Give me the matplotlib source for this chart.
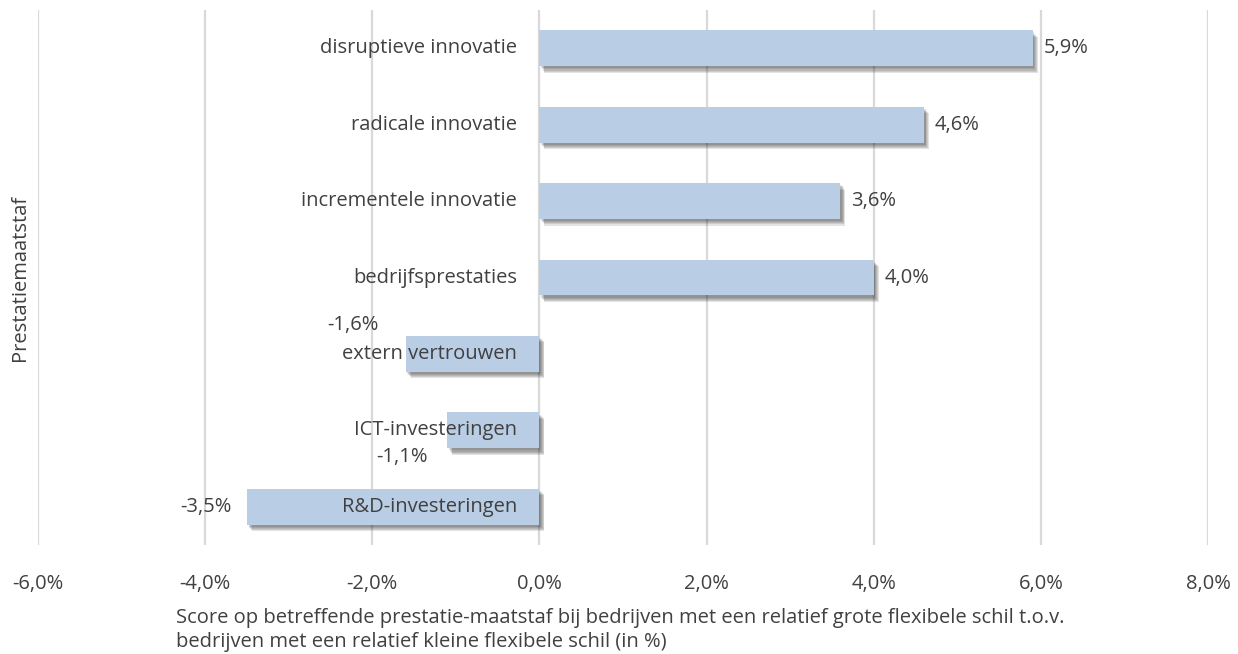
import matplotlib.pyplot as plt
import matplotlib.patheffects as pe
from matplotlib.ticker import FuncFormatter

# ------------------------------------------------------------
# DATA
# ------------------------------------------------------------

categories = [
    "disruptieve innovatie",
    "radicale innovatie",
    "incrementele innovatie",
    "bedrijfsprestaties",
    "extern vertrouwen",
    "ICT-investeringen",
    "R&D-investeringen",
]
values = [5.9, 4.6, 3.6, 4.0, -1.6, -1.1, -3.5]
# where Excel put the value label for each bar
label_pos = ["right", "right", "right", "right", "above", "below", "left"]

xticks = [-6, -4, -2, 0, 2, 4, 6, 8]

BAR_COLOR = "#B9CDE5"
TEXT_COLOR = "#404040"
GRID_COLOR = "#D9D9D9"
FS = 14.5

plt.rcParams["font.family"] = ["Open Sans", "DejaVu Sans"]

# ------------------------------------------------------------
# PLOT
# ------------------------------------------------------------

fig = plt.figure(figsize=(12.38, 6.54), dpi=100)
ax = fig.add_axes([38 / 1238, 1 - 545 / 654, 1170 / 1238, 535 / 654])

ypos = list(range(len(categories)))
bars = ax.barh(ypos, values, height=0.47, color=BAR_COLOR, zorder=3)
# soft drop shadow, built from a few faint offset copies
shadow = [
    pe.SimplePatchShadow(offset=(o, -o * 1.3), shadow_rgbFace="#202020", alpha=0.12)
    for o in (3.6, 3.0, 2.4, 1.8, 1.2)
]
for b in bars:
    b.set_path_effects(shadow + [pe.Normal()])

ax.set_xlim(-6, 8)
ax.set_ylim(len(categories) - 0.5, -0.5)
ax.set_xticks(xticks)
ax.xaxis.set_major_formatter(FuncFormatter(lambda v, p: f"{v:.1f}%".replace(".", ",")))
ax.set_yticks([])
ax.tick_params(axis="x", length=0, pad=21, labelsize=FS, colors=TEXT_COLOR)
ax.grid(axis="x", color=GRID_COLOR, linewidth=1.6, zorder=0)
for s in ax.spines.values():
    s.set_visible(False)

# category labels just left of zero
for y, cat in zip(ypos, categories):
    ax.annotate(cat, xy=(0, y), xytext=(-16, 0), textcoords="offset points",
                ha="right", va="center", fontsize=FS, color=TEXT_COLOR, zorder=5)

# value labels
for y, v, pos in zip(ypos, values, label_pos):
    txt = f"{v:.1f}%".replace(".", ",")
    if pos == "right":
        off, ha, va = (8, 0), "left", "center"
    elif pos == "left":
        off, ha, va = (-11, 0), "right", "center"
    elif pos == "above":
        off, ha, va = (-38, 21), "center", "center"
    else:
        off, ha, va = (-33, -19), "center", "center"
    ax.annotate(txt, xy=(v, y), xytext=off, textcoords="offset points",
                ha=ha, va=va, fontsize=FS, color=TEXT_COLOR, zorder=5)

ax.set_ylabel("Prestatiemaatstaf", fontsize=FS, color=TEXT_COLOR, labelpad=6)
fig.text(620 / 1238, 1 - 630 / 654,
         "Score op betreffende prestatie-maatstaf bij bedrijven met een relatief grote flexibele schil t.o.v.\n"
         "bedrijven met een relatief kleine flexibele schil (in %)",
         ha="center", va="center", multialignment="left", fontsize=FS,
         color=TEXT_COLOR, linespacing=1.2)

plt.savefig("out.png", dpi=100)
